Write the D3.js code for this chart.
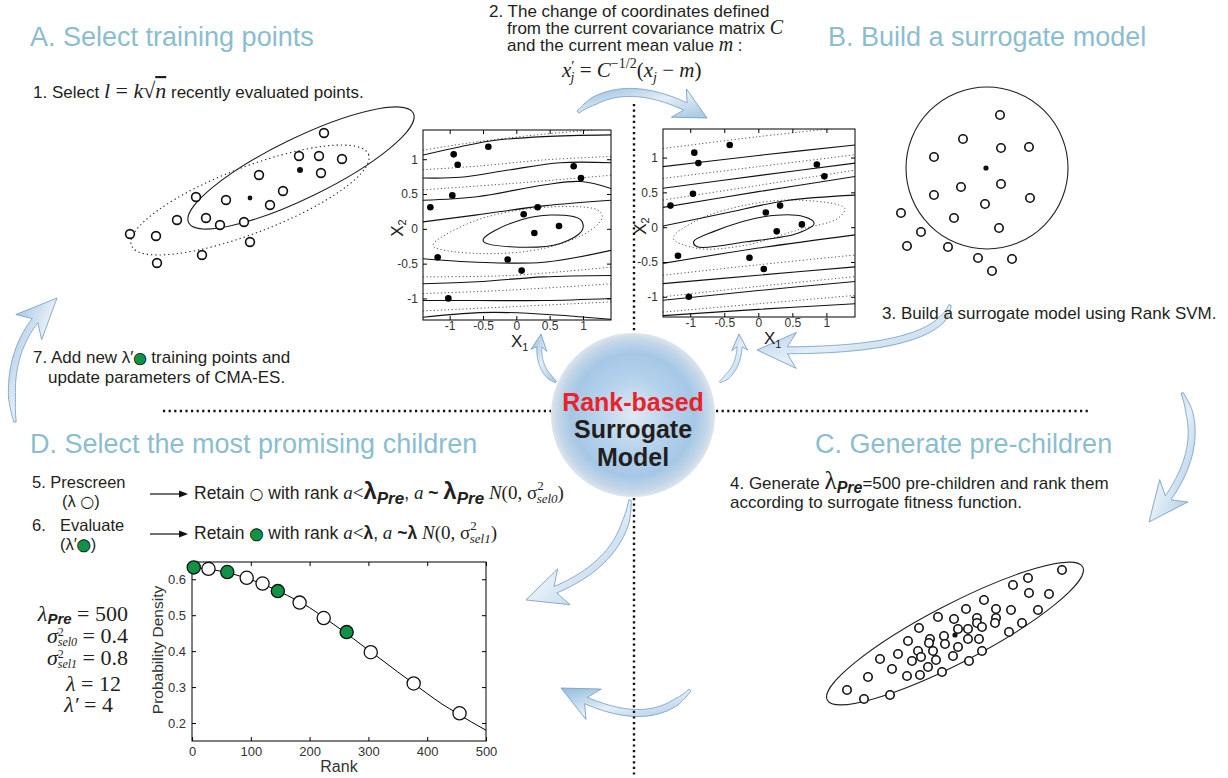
<!DOCTYPE html>
<html>
<head>
<meta charset="utf-8">
<script src="https://cdn.jsdelivr.net/npm/d3@7"></script>
<style>
  body { margin: 0; background: #fff; }
  svg { display: block; }
</style>
</head>
<body>
<div id="chart"></div>
<script>
// ---------- data ----------
const titles = ['A. Select training points', 'B. Build a surrogate model',
                'C. Generate pre-children', 'D. Select the most promising children']

// panel A, recently evaluated points (panel units)
const trainPts = [[204,33],[179,56],[199,56],[222,59],[201,73],[139,75],[163,91],[76,97],[106,100],
                  [150,105],[86,118],[57,120],[100,125],[124,122],[10,134],[36,136],[130,142],[82,155],[37,163]]
const trainMeans = [[180,70],[130,98]]
const trainEllipseSolid = [181, 68, 125, 30, -26]   // cx, cy, rx, ry, angle
const trainEllipseDotted = [130, 100, 127, 33, -21]

// panel B, points after the change of coordinates
const mappedPts = [[110,35],[73,59],[111,68],[139,67],[44,77],[71,107],[111,104],[44,115],[140,118],[95,124],
                   [64,138],[109,148],[11,133],[31,152],[17,166],[58,167],[88,178],[122,179],[102,191]]
const mappedMean = [96,88]
const mappedCircle = [97, 88, 81]

// panel C, pre-children
const preChildren = [[242,20],[208,28],[193,35],[209,43],[229,44],[164,50],[146,59],[176,59],[191,60],[218,60],
  [118,67],[134,69],[157,68],[176,68],[157,73],[175,73],[202,73],[99,78],[138,79],[148,79],[162,77],[189,82],
  [88,91],[110,89],[124,86],[148,89],[159,89],[109,93],[125,94],[138,97],[78,104],[98,101],[113,101],[60,109],
  [101,107],[116,110],[133,106],[162,101],[92,111],[72,119],[108,117],[149,111],[48,127],[87,126],[100,125],
  [122,122],[27,140],[44,149],[70,145]]
const preMean = [135,85]
const preEllipse = [135, 83.5, 144, 29, -27.5]

// contour plots (x1, x2)
const samplePts = [[-0.94,1.07],[-0.42,1.18],[-0.88,0.92],[0.86,0.90],[0.97,0.73],[-0.96,0.48],[-1.29,0.31],
  [0.32,0.31],[0.11,0.21],[0.64,0.04],[0.27,-0.06],[-1.18,-0.41],[-0.13,-0.44],[0.08,-0.60],[-1.02,-1.0]]
const axisTicks = [-1, -0.5, 0, 0.5, 1]

const origSolid = [
  [[-1.4,1.06],[-0.84,1.18],[-0.34,1.27],[0.41,1.325],[1.42,1.35]],
  [[-1.4,0.73],[-0.84,0.74],[-0.09,0.85],[0.66,0.95],[1.42,0.95]],
  [[-1.4,0.41],[-0.59,0.46],[0.41,0.63],[0.97,0.68],[1.42,0.58]],
  [[-1.4,0.1],[-0.59,0.2],[0.41,0.33],[1.42,0.41]],
  [[-1.4,-0.43],[-0.59,-0.48],[0.41,-0.48],[1.42,-0.31]],
  [[-1.4,-0.79],[-0.59,-0.76],[0.41,-0.69],[1.42,-0.67]],
  [[-1.4,-1.03],[-0.59,-1.03],[0.41,-1.03],[1.42,-1.0]],
  [[-1.4,-1.27],[-0.34,-1.2],[1.42,-1.3]]
]
const origDotted = [
  [[-1.4,1.13],[-0.59,1.25],[0.41,1.36],[1.42,1.44]],
  [[-1.4,0.85],[-0.59,0.9],[0.41,0.99],[1.42,1.04]],
  [[-1.4,0.56],[-0.09,0.65],[1.42,0.77]],
  [[-1.4,-0.69],[-0.09,-0.67],[1.42,-0.55]],
  [[-1.4,-0.93],[-0.09,-0.88],[1.42,-0.79]],
  [[-1.4,-1.18],[-0.09,-1.12],[1.42,-1.05]]
]
const origRingDotted = [[-1.24,-0.21],[-0.59,0.126],[0.41,0.309],[1.22,0.27],[1.29,0.174],[1.12,-0.018],
  [0.41,-0.282],[-0.59,-0.354],[-1.24,-0.258]]
const origRingSolid = [[-0.49,-0.138],[-0.09,0.078],[0.51,0.198],[0.97,0.126],[0.99,-0.018],[0.66,-0.21],
  [-0.09,-0.258],[-0.49,-0.186]]

const warpSolid = [
  [[-1.4,0.87],[0,1.03],[1.42,1.18]],
  [[-1.4,0.56],[0,0.74],[1.42,0.92]],
  [[-1.4,0.285],[0,0.51],[1.42,0.727]],
  [[-1.4,0.017],[-0.5,0.2],[0.4,0.38],[1.42,0.46]],
  [[-1.4,-0.52],[0,-0.3],[1.42,-0.11]],
  [[-1.4,-0.81],[0,-0.69],[1.42,-0.57]],
  [[-1.4,-1.05],[0,-0.91],[1.42,-0.78]],
  [[-1.4,-1.27],[0,-1.18],[1.42,-1.1]]
]
const warpDotted = [
  [[-1.4,1.13],[0,1.3],[1.42,1.45]],
  [[-1.4,0.7],[0,0.87],[1.42,1.04]],
  [[-1.4,0.39],[0,0.6],[1.42,0.82]],
  [[-1.4,-0.69],[0,-0.54],[1.42,-0.4]],
  [[-1.4,-1.0],[0,-0.85],[1.42,-0.71]],
  [[-1.4,-1.22],[0,-1.1],[1.42,-0.98]]
]
const warpRingDotted = [[-1.25,-0.16],[-0.9,0.10],[-0.17,0.32],[0.58,0.39],[1.27,0.27],[1.17,0.127],
  [0.58,-0.04],[-0.17,-0.256],[-0.9,-0.304]]
const warpRingSolid = [[-0.95,-0.208],[-0.66,-0.064],[0.08,0.15],[0.67,0.15],[0.82,0.055],[0.58,-0.088],
  [-0.17,-0.21],[-0.9,-0.28]]

// selection density chart
const rankTicks = [0, 100, 200, 300, 400, 500]
const densTicks = [0.2, 0.3, 0.4, 0.5, 0.6]
const densCurve = [[0,0.632],[25,0.629],[50,0.622],[75,0.612],[100,0.599],[125,0.583],[150,0.565],[175,0.544],
  [200,0.521],[225,0.493],[250,0.464],[275,0.434],[300,0.403],[325,0.373],[350,0.342],[375,0.312],[400,0.282],
  [425,0.253],[450,0.228],[475,0.203],[500,0.18]]
const prescreened = [[28,0.629],[93,0.604],[120,0.588],[183,0.535],[224,0.492],[304,0.397],[377,0.31],[455,0.227]]
const evaluated = [[3,0.633],[60,0.62],[146,0.567],[263,0.453]]

// ---------- drawing ----------
const W = 1228, H = 778
const SANS = '"Liberation Sans", Arial, Helvetica, sans-serif'
const SERIF = '"Liberation Serif", "DejaVu Serif", "Times New Roman", serif'
const TITLE = '#8bbdd0', INK = '#231f20', GREEN = '#0f9447'

const svg = d3.select('#chart').append('svg')
  .attr('width', W).attr('height', H)
  .style('font-family', SANS)
const defs = svg.append('defs')

const ag = defs.append('linearGradient').attr('id', 'arrowGrad')
  .attr('x1', 0).attr('y1', 0).attr('x2', 1).attr('y2', 1)
ag.append('stop').attr('offset', 0).attr('stop-color', '#93bbdd')
ag.append('stop').attr('offset', 0.5).attr('stop-color', '#e4eef7')
ag.append('stop').attr('offset', 1).attr('stop-color', '#a3c5e2')

const rg = defs.append('radialGradient').attr('id', 'ballGrad')
rg.append('stop').attr('offset', 0).attr('stop-color', '#dfe9f3')
rg.append('stop').attr('offset', 0.45).attr('stop-color', '#b5d2ec')
rg.append('stop').attr('offset', 0.75).attr('stop-color', '#a5c7e6')
rg.append('stop').attr('offset', 0.92).attr('stop-color', '#c4d7e8')
rg.append('stop').attr('offset', 1).attr('stop-color', '#dde5ec')

// ---------- curved arrows (drawn first, under the rest) ----------
function curvedArrow(p0, p1, p2, w, head, headW) {
  const B = t => [(1 - t) * (1 - t) * p0[0] + 2 * (1 - t) * t * p1[0] + t * t * p2[0],
                  (1 - t) * (1 - t) * p0[1] + 2 * (1 - t) * t * p1[1] + t * t * p2[1]]
  const N = 80
  const pts = d3.range(N + 1).map(i => B(i / N))
  const len = [0]
  for (let i = 1; i <= N; i++) len.push(len[i - 1] + Math.hypot(pts[i][0] - pts[i - 1][0], pts[i][1] - pts[i - 1][1]))
  const L = len[N]
  let k = len.findIndex(l => l >= L - head)
  const left = [], right = []
  for (let i = 0; i <= k; i++) {
    const a = pts[Math.max(i - 1, 0)], b = pts[Math.min(i + 1, N)]
    const dx = b[0] - a[0], dy = b[1] - a[1], m = Math.hypot(dx, dy)
    const hw = (w / 2) * Math.min(1, 0.35 + i / (N * 0.25))
    left.push([pts[i][0] - dy / m * hw, pts[i][1] + dx / m * hw])
    right.push([pts[i][0] + dy / m * hw, pts[i][1] - dx / m * hw])
  }
  const base = pts[k]
  const dx = p2[0] - base[0], dy = p2[1] - base[1], m = Math.hypot(dx, dy)
  const ux = dx / m, uy = dy / m
  const notch = head * 0.28
  const barbL = [base[0] - uy * headW / 2 - ux * notch, base[1] + ux * headW / 2 - uy * notch]
  const barbR = [base[0] + uy * headW / 2 - ux * notch, base[1] - ux * headW / 2 - uy * notch]
  const poly = [...left, barbL, p2, barbR, ...right.reverse()]
  svg.append('path').attr('d', d3.line()(poly) + 'Z')
    .attr('fill', 'url(#arrowGrad)').attr('stroke', '#6d98c0').attr('stroke-width', 0.8)
}
curvedArrow([578, 112], [626, 70], [707, 118], 8, 26, 32)
curvedArrow([556, 382], [534, 368], [541, 334], 5, 13, 16)
curvedArrow([720, 382], [743, 368], [739, 334], 5, 13, 16)
curvedArrow([950, 305], [938, 354], [757, 350], 7, 32, 36)
curvedArrow([1182, 393], [1212, 452], [1149, 522], 7, 32, 36)
curvedArrow([15, 422], [0, 345], [57, 298], 7, 32, 36)
curvedArrow([630, 500], [624, 572], [526, 600], 7, 32, 38)
curvedArrow([690, 690], [648, 737], [561, 688], 7, 30, 34)

// dotted dividers
const dots = svg.append('g').attr('stroke', '#111').attr('stroke-width', 2.4)
  .attr('stroke-dasharray', '2.2,3.4').attr('fill', 'none')
dots.append('line').attr('x1', 634).attr('y1', 104).attr('x2', 634).attr('y2', 334)
dots.append('line').attr('x1', 634).attr('y1', 498).attr('x2', 634).attr('y2', 778)
dots.append('line').attr('x1', 163).attr('y1', 411).attr('x2', 551).attr('y2', 411)
dots.append('line').attr('x1', 716).attr('y1', 411).attr('x2', 1090).attr('y2', 411)

// titles
const titlePos = [[30, 46], [828, 46], [815, 453], [30, 453]]
svg.selectAll('text.title').data(titles).join('text')
  .attr('class', 'title')
  .attr('x', (d, i) => titlePos[i][0]).attr('y', (d, i) => titlePos[i][1])
  .attr('fill', TITLE).attr('font-size', 27)
  .text(d => d)

// ---------- scatter panels ----------
function panel(ox, oy) {
  return {
    x: d3.scaleLinear().domain([0, 300]).range([ox, ox + 300]),
    y: d3.scaleLinear().domain([0, 200]).range([oy, oy + 200])
  }
}
function openDots(s, pts, r) {
  svg.append('g').selectAll('circle').data(pts).join('circle')
    .attr('cx', d => s.x(d[0])).attr('cy', d => s.y(d[1])).attr('r', r)
    .attr('fill', '#fff').attr('stroke', '#111').attr('stroke-width', 1.6)
}
function ellipse(s, e, dash) {
  svg.append('ellipse')
    .attr('cx', s.x(e[0])).attr('cy', s.y(e[1]))
    .attr('rx', s.x(e[2]) - s.x(0)).attr('ry', s.y(e[3]) - s.y(0))
    .attr('transform', `rotate(${e[4]},${s.x(e[0])},${s.y(e[1])})`)
    .attr('fill', 'none').attr('stroke', '#222').attr('stroke-width', 1.1)
    .attr('stroke-dasharray', dash || null)
}

const pA = panel(120, 100)
ellipse(pA, trainEllipseDotted, '1.3,3')
ellipse(pA, trainEllipseSolid)
openDots(pA, trainPts, 4.4)
svg.append('g').selectAll('circle').data(trainMeans).join('circle')
  .attr('cx', d => pA.x(d[0])).attr('cy', d => pA.y(d[1])).attr('r', (d, i) => i ? 2.4 : 3)
  .attr('fill', '#111')

const pB = panel(890, 80)
svg.append('circle').attr('cx', pB.x(mappedCircle[0])).attr('cy', pB.y(mappedCircle[1]))
  .attr('r', pB.x(mappedCircle[2]) - pB.x(0)).attr('fill', 'none').attr('stroke', '#222').attr('stroke-width', 1.1)
openDots(pB, mappedPts, 4.2)
svg.append('circle').attr('cx', pB.x(mappedMean[0])).attr('cy', pB.y(mappedMean[1])).attr('r', 2.6).attr('fill', '#111')

const pC = panel(820, 550)
ellipse(pC, preEllipse)
openDots(pC, preChildren, 4.2)
svg.append('circle').attr('cx', pC.x(preMean[0])).attr('cy', pC.y(preMean[1])).attr('r', 2.6).attr('fill', '#111')

// ---------- contour plots ----------
const fmt = d => String(d)
function contourPlot(o) {
  const x = d3.scaleLinear().domain([-1.4, 1.42]).range([o.left, o.right])
  const y = d3.scaleLinear().domain(o.yDom).range([o.bottom, o.top])
  defs.append('clipPath').attr('id', o.id).append('rect')
    .attr('x', o.left).attr('y', o.top).attr('width', o.right - o.left).attr('height', o.bottom - o.top)
  const g = svg.append('g')
  const body = g.append('g').attr('clip-path', `url(#${o.id})`)
  const line = d3.line().x(d => x(d[0])).y(d => y(d[1])).curve(d3.curveCatmullRom)
  const ring = d3.line().x(d => x(d[0])).y(d => y(d[1])).curve(d3.curveCatmullRomClosed)

  body.selectAll('path.dot').data(o.dotted).join('path').attr('class', 'dot')
    .attr('d', line).attr('fill', 'none').attr('stroke', '#444').attr('stroke-width', 0.9)
    .attr('stroke-dasharray', '1.2,2.4')
  body.append('path').attr('d', ring(o.ringDotted)).attr('fill', 'none').attr('stroke', '#444')
    .attr('stroke-width', 0.9).attr('stroke-dasharray', '1.2,2.4')
  body.selectAll('path.sol').data(o.solid).join('path').attr('class', 'sol')
    .attr('d', line).attr('fill', 'none').attr('stroke', '#111').attr('stroke-width', 1.1)
  body.append('path').attr('d', ring(o.ringSolid)).attr('fill', 'none').attr('stroke', '#111').attr('stroke-width', 1.1)
  body.selectAll('circle').data(samplePts).join('circle')
    .attr('cx', d => x(d[0])).attr('cy', d => y(d[1])).attr('r', 3.3).attr('fill', '#000')

  const axes = [
    [d3.axisBottom(x).tickFormat(fmt), `translate(0,${o.bottom})`, 1],
    [d3.axisTop(x).tickFormat(''), `translate(0,${o.top})`, 4],
    [d3.axisLeft(y).tickFormat(fmt), `translate(${o.left},0)`, 5],
    [d3.axisRight(y).tickFormat(''), `translate(${o.right},0)`, 4]
  ]
  axes.forEach(([ax, tr, pad]) => {
    const a = g.append('g').attr('transform', tr)
      .call(ax.tickValues(axisTicks).tickSize(-4).tickPadding(pad))
    a.select('.domain').remove()
    a.selectAll('line').attr('stroke', '#000')
    a.selectAll('text').attr('font-size', 12).attr('fill', '#333').attr('font-family', SANS)
  })
  g.append('rect').attr('x', o.left).attr('y', o.top)
    .attr('width', o.right - o.left).attr('height', o.bottom - o.top)
    .attr('fill', 'none').attr('stroke', '#000').attr('stroke-width', 1)

  const xl = g.append('text').attr('x', o.x1Label[0]).attr('y', o.x1Label[1])
    .attr('font-size', 17).attr('fill', '#222')
  xl.append('tspan').text('X')
  xl.append('tspan').attr('font-size', 11).attr('dy', 4).text('1')
  const yl = g.append('text')
    .attr('transform', `translate(${o.x2Label[0]},${o.x2Label[1]}) rotate(-90)`)
    .attr('font-size', 17).attr('fill', '#222').attr('text-anchor', 'middle')
  yl.append('tspan').text('X')
  yl.append('tspan').attr('font-size', 11).attr('dy', 3).text('2')
}

contourPlot({ id: 'clipA', left: 423, right: 611, top: 130, bottom: 320, yDom: [-1.31, 1.42],
  solid: origSolid, dotted: origDotted, ringSolid: origRingSolid, ringDotted: origRingDotted,
  x1Label: [511, 347], x2Label: [403, 228] })
contourPlot({ id: 'clipB', left: 663, right: 855, top: 129, bottom: 317, yDom: [-1.29, 1.41],
  solid: warpSolid, dotted: warpDotted, ringSolid: warpRingSolid, ringDotted: warpRingDotted,
  x1Label: [764, 344], x2Label: [646, 226] })

// ---------- density chart ----------
{
  const x = d3.scaleLinear().domain([0, 500]).range([192, 486])
  const y = d3.scaleLinear().domain([0.15, 0.648]).range([741, 562])
  const g = svg.append('g')
  const axes = [
    [d3.axisBottom(x).tickValues(rankTicks), 'translate(0,741)'],
    [d3.axisTop(x).tickValues(rankTicks).tickFormat(''), 'translate(0,562)'],
    [d3.axisLeft(y).tickValues(densTicks).tickFormat(d3.format('.1f')), 'translate(192,0)'],
    [d3.axisRight(y).tickValues(densTicks).tickFormat(''), 'translate(486,0)']
  ]
  axes.forEach(([ax, tr]) => {
    const a = g.append('g').attr('transform', tr).call(ax.tickSize(-4).tickPadding(6))
    a.select('.domain').remove()
    a.selectAll('line').attr('stroke', '#000')
    a.selectAll('text').attr('font-size', 13).attr('fill', '#333').attr('font-family', SANS)
  })
  g.append('rect').attr('x', 192).attr('y', 562).attr('width', 294).attr('height', 179)
    .attr('fill', 'none').attr('stroke', '#000')
  g.append('path').datum(densCurve)
    .attr('d', d3.line().x(d => x(d[0])).y(d => y(d[1])).curve(d3.curveMonotoneX))
    .attr('fill', 'none').attr('stroke', '#000').attr('stroke-width', 1)
  g.selectAll('circle.pre').data(prescreened).join('circle').attr('class', 'pre')
    .attr('cx', d => x(d[0])).attr('cy', d => y(d[1])).attr('r', 6.6)
    .attr('fill', '#fff').attr('stroke', '#111').attr('stroke-width', 1.3)
  g.selectAll('circle.ev').data(evaluated).join('circle').attr('class', 'ev')
    .attr('cx', d => x(d[0])).attr('cy', d => y(d[1])).attr('r', 6.6)
    .attr('fill', GREEN).attr('stroke', '#111').attr('stroke-width', 1.3)
  g.append('text').attr('x', 339).attr('y', 772).attr('text-anchor', 'middle')
    .attr('font-size', 16).attr('fill', '#333').text('Rank')
  g.append('text').attr('transform', 'translate(163,650) rotate(-90)').attr('text-anchor', 'middle')
    .attr('font-size', 15.5).attr('fill', '#333').text('Probability Density')
}

// ---------- centre ball ----------
svg.append('circle').attr('cx', 633).attr('cy', 415).attr('r', 82).attr('fill', 'url(#ballGrad)')
svg.append('text').attr('x', 633).attr('y', 411).attr('text-anchor', 'middle')
  .attr('font-size', 25).attr('font-weight', 'bold').attr('fill', '#e8232b').text('Rank-based')
svg.append('text').attr('x', 633).attr('y', 438).attr('text-anchor', 'middle')
  .attr('font-size', 25).attr('font-weight', 'bold').attr('fill', '#231f20').text('Surrogate')
svg.append('text').attr('x', 633).attr('y', 466).attr('text-anchor', 'middle')
  .attr('font-size', 25).attr('font-weight', 'bold').attr('fill', '#231f20').text('Model')

// ---------- step texts ----------
function txt(x, y, size) {
  return svg.append('text').attr('x', x).attr('y', y).attr('font-size', size || 17).attr('fill', INK)
}
function span(t, s, style) {
  const e = t.append('tspan').text(s)
  Object.entries(style || {}).forEach(([k, v]) => e.attr(k, v))
  return e
}
const it = { 'font-family': SERIF, 'font-style': 'italic' }

// step 1
let t = txt(33, 98)
span(t, '1. Select ')
span(t, 'l', { ...it, 'font-size': 22 })
span(t, ' = ', { 'font-family': SERIF, 'font-size': 22 })
span(t, 'k', { ...it, 'font-size': 22 })
span(t, '\u221A', { 'font-family': SERIF, 'font-size': 22 })
span(t, 'n', { ...it, 'font-size': 22, 'text-decoration': 'overline' })
span(t, ' recently evaluated points.')

// step 2
t = txt(489, 17); span(t, '2. The change of coordinates defined')
t = txt(507, 34); span(t, 'from the current covariance matrix '); span(t, 'C', { ...it, 'font-size': 20 })
t = txt(507, 51); span(t, 'and the current mean value '); span(t, 'm', { ...it, 'font-size': 20 }); span(t, ' :')
t = txt(562, 77, 21).attr('font-family', SERIF)
span(t, 'x', { 'font-style': 'italic' })
span(t, '\u2032', { 'font-size': 15, dy: -6 })
span(t, 'j', { 'font-style': 'italic', 'font-size': 14, dx: -4, dy: 11 })
span(t, ' = ', { dy: -5 })
span(t, 'C', { 'font-style': 'italic' })
span(t, '\u22121/2', { 'font-size': 14, dy: -9 })
span(t, '(', { dy: 9 })
span(t, 'x', { 'font-style': 'italic' })
span(t, 'j', { 'font-style': 'italic', 'font-size': 14, dy: 5 })
span(t, ' \u2212 ', { dy: -5 })
span(t, 'm', { 'font-style': 'italic' })
span(t, ')')

// step 3
t = txt(882, 319); span(t, '3. Build a surrogate model using Rank SVM.')

// step 4
t = txt(730, 489)
span(t, '4. Generate ')
span(t, '\u03BB', { 'font-family': SERIF, 'font-size': 25 })
span(t, 'Pre', { 'font-weight': 'bold', 'font-style': 'italic', 'font-size': 16, dy: 4 })
span(t, '=500 pre-children and rank them', { dy: -4 })
t = txt(730, 508); span(t, 'according to surrogate fitness function.')

// step 7
t = txt(33, 363)
span(t, '7. Add new \u03BB\u2032')
span(t, '\u25CF', { fill: GREEN, stroke: '#111', 'stroke-width': 0.8, 'font-family': '"DejaVu Sans"', 'font-size': 15 })
span(t, ' training points and')
t = txt(48, 383); span(t, 'update parameters of CMA-ES.')

// steps 5 and 6
t = txt(32, 488, 16.5); span(t, '5.  Prescreen')
t = txt(62, 507, 16.5); span(t, '(\u03BB '); span(t, '\u25CB', { 'font-family': '"DejaVu Sans"', 'font-size': 16 }); span(t, ')')
t = txt(32, 531, 16.5); span(t, '6.')
t = txt(60, 531, 16.5); span(t, 'Evaluate')
t = txt(60, 550, 16.5); span(t, '(\u03BB\u2032');
span(t, '\u25CF', { fill: GREEN, stroke: '#111', 'stroke-width': 0.8, 'font-family': '"DejaVu Sans"', 'font-size': 16 })
span(t, ')')

function smallArrow(x1, x2, y) {
  svg.append('line').attr('x1', x1).attr('y1', y).attr('x2', x2 - 6).attr('y2', y).attr('stroke', '#111').attr('stroke-width', 1.2)
  svg.append('path').attr('d', `M${x2},${y}L${x2 - 9},${y - 3.5}L${x2 - 9},${y + 3.5}Z`).attr('fill', '#111')
}
smallArrow(150, 188, 494)
smallArrow(150, 188, 534)

t = txt(194, 499, 17.5)
span(t, 'Retain ')
span(t, '\u25CB', { 'font-family': '"DejaVu Sans"', 'font-size': 16 })
span(t, ' with rank ')
span(t, 'a', { ...it, 'font-size': 19 }); span(t, '<', { 'font-family': SERIF, 'font-size': 19 })
span(t, '\u03BB', { 'font-weight': 'bold', 'font-size': 24 })
span(t, 'Pre', { 'font-weight': 'bold', 'font-style': 'italic', 'font-size': 17, dy: 5 })
span(t, ', ', { dy: -5 })
span(t, 'a', { ...it, 'font-size': 19 })
span(t, ' ~ ', { 'font-weight': 'bold' })
span(t, '\u03BB', { 'font-weight': 'bold', 'font-size': 24 })
span(t, 'Pre', { 'font-weight': 'bold', 'font-style': 'italic', 'font-size': 17, dy: 5 })
span(t, ' N', { ...it, 'font-size': 19, dy: -5 })
span(t, '(0, \u03C3', { 'font-family': SERIF, 'font-size': 19 })
span(t, '2', { 'font-family': SERIF, 'font-size': 13, dy: -9 })
span(t, 'sel0', { ...it, 'font-size': 13, dx: -7, dy: 13 })
span(t, ')', { 'font-family': SERIF, 'font-size': 19, dy: -4 })

t = txt(194, 539, 17.5)
span(t, 'Retain ')
span(t, '\u25CF', { fill: GREEN, stroke: '#111', 'stroke-width': 0.8, 'font-family': '"DejaVu Sans"', 'font-size': 16 })
span(t, ' with rank ')
span(t, 'a', { ...it, 'font-size': 19 }); span(t, '<', { 'font-family': SERIF, 'font-size': 19 })
span(t, '\u03BB', { 'font-weight': 'bold' })
span(t, ', ')
span(t, 'a', { ...it, 'font-size': 19 })
span(t, ' ~', { 'font-weight': 'bold' })
span(t, '\u03BB', { 'font-weight': 'bold' })
span(t, ' N', { ...it, 'font-size': 19 })
span(t, '(0, \u03C3', { 'font-family': SERIF, 'font-size': 19 })
span(t, '2', { 'font-family': SERIF, 'font-size': 13, dy: -9 })
span(t, 'sel1', { ...it, 'font-size': 13, dx: -7, dy: 13 })
span(t, ')', { 'font-family': SERIF, 'font-size': 19, dy: -4 })

// parameter block (right-aligned like the typeset original)
function param(xr, y) {
  return svg.append('text').attr('x', xr).attr('y', y).attr('text-anchor', 'end')
    .attr('font-size', 22).attr('fill', INK).attr('font-family', SERIF)
}
t = param(128, 621)
span(t, '\u03BB', { 'font-style': 'italic' })
span(t, 'Pre', { 'font-family': SANS, 'font-weight': 'bold', 'font-style': 'italic', 'font-size': 15, dy: 3 })
span(t, ' = 500', { dy: -3 })
t = param(128, 643)
span(t, '\u03C3', { 'font-style': 'italic' })
span(t, '2', { 'font-size': 12, dy: -7 })
span(t, 'sel0', { 'font-style': 'italic', 'font-size': 12, dx: -6, dy: 10 })
span(t, ' = 0.4', { dy: -3 })
t = param(128, 665)
span(t, '\u03C3', { 'font-style': 'italic' })
span(t, '2', { 'font-size': 12, dy: -7 })
span(t, 'sel1', { 'font-style': 'italic', 'font-size': 12, dx: -6, dy: 10 })
span(t, ' = 0.8', { dy: -3 })
t = param(121, 691)
span(t, '\u03BB', { 'font-style': 'italic' }); span(t, ' = 12')
t = param(113, 712)
span(t, '\u03BB\u2032', { 'font-style': 'italic' }); span(t, ' = 4')
</script>
</body>
</html>
